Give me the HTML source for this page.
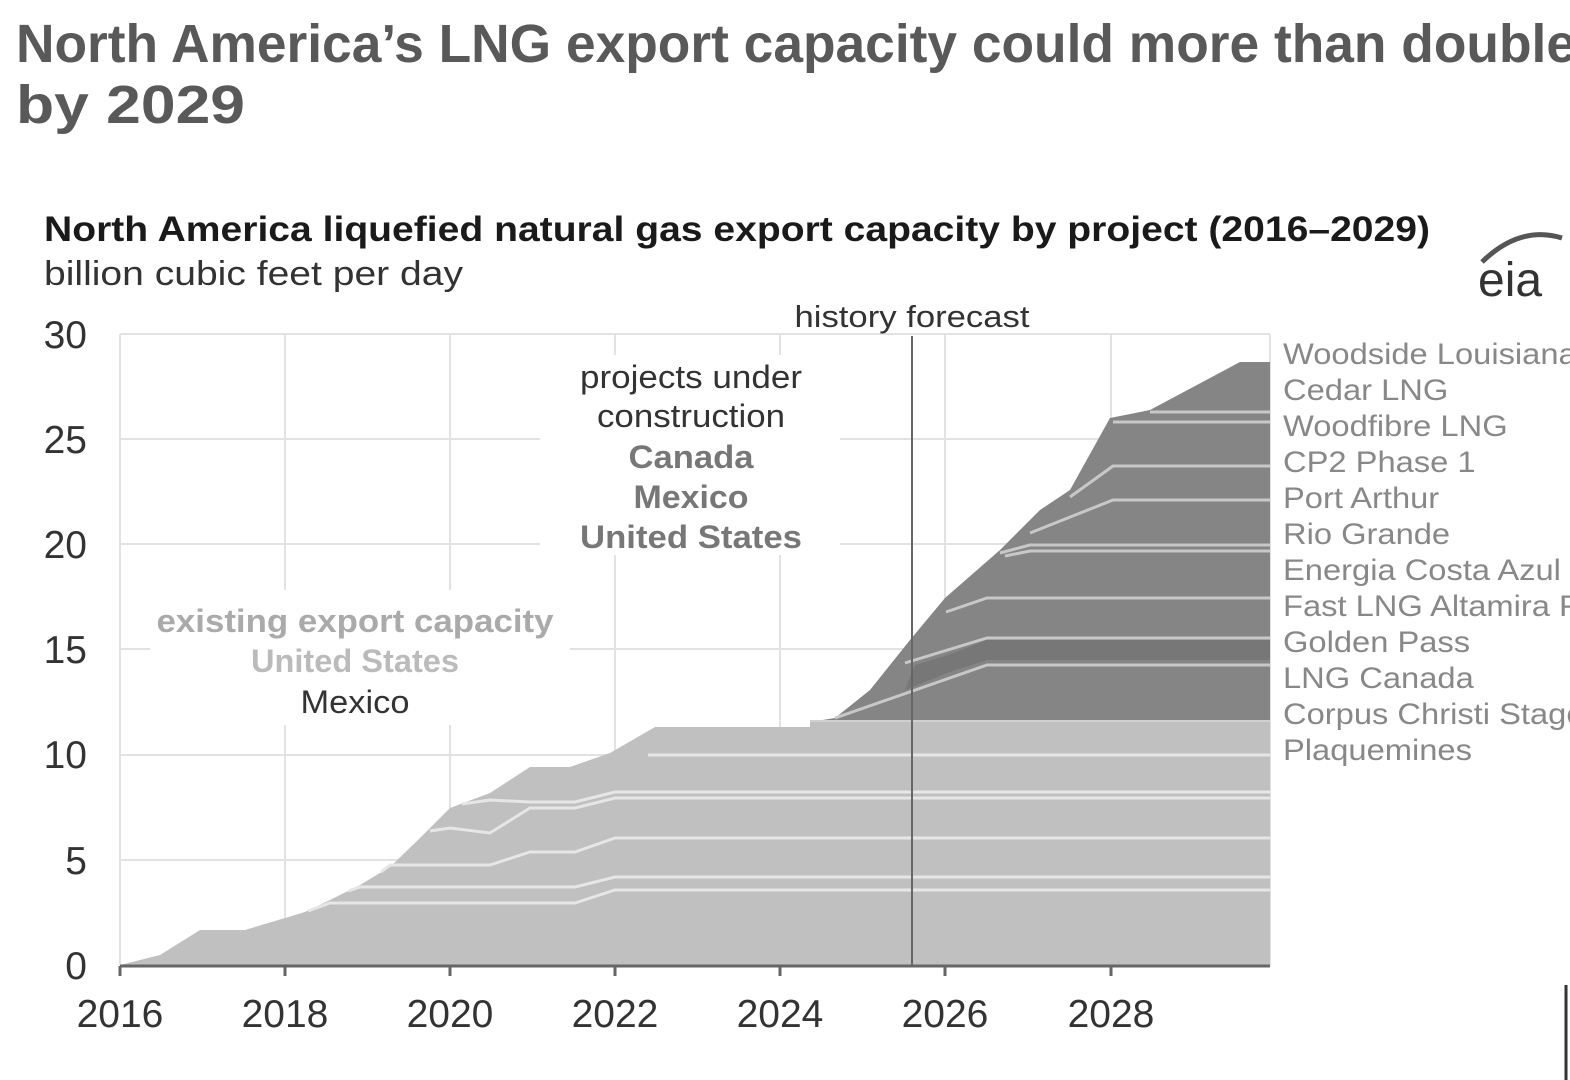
<!DOCTYPE html>
<html><head><meta charset="utf-8"><style>
html,body{margin:0;padding:0;background:#fff;width:1570px;height:1080px;overflow:hidden}
svg{display:block}
</style></head><body>
<svg width="1570" height="1080" viewBox="0 0 1570 1080" font-family="Liberation Sans, sans-serif">
<rect width="1570" height="1080" fill="#fff"/>
<text x="16" y="62" font-size="54" font-weight="bold" fill="#595959" textLength="1560" lengthAdjust="spacingAndGlyphs">North America’s LNG export capacity could more than double</text>
<text x="16" y="123" font-size="54" font-weight="bold" fill="#595959" textLength="229" lengthAdjust="spacingAndGlyphs">by 2029</text>
<text x="44" y="241" font-size="35" font-weight="bold" fill="#1a1a1a" textLength="1386" lengthAdjust="spacingAndGlyphs">North America liquefied natural gas export capacity by project (2016–2029)</text>
<text x="44" y="285" font-size="34" fill="#333" textLength="419" lengthAdjust="spacingAndGlyphs">billion cubic feet per day</text>
<path d="M1482 262 Q1520 225 1562 238" stroke="#555" stroke-width="5" fill="none"/>
<text x="1478" y="296" font-size="48" fill="#333">eia</text>
<g stroke="#e2e2e2" stroke-width="2">
<line x1="120" y1="334" x2="1270" y2="334"/><line x1="120" y1="439" x2="1270" y2="439"/>
<line x1="120" y1="544" x2="1270" y2="544"/><line x1="120" y1="649" x2="1270" y2="649"/>
<line x1="120" y1="755" x2="1270" y2="755"/><line x1="120" y1="860" x2="1270" y2="860"/>
<line x1="120" y1="334" x2="120" y2="965"/><line x1="285" y1="334" x2="285" y2="965"/>
<line x1="450" y1="334" x2="450" y2="965"/><line x1="615" y1="334" x2="615" y2="965"/>
<line x1="780" y1="334" x2="780" y2="965"/><line x1="945" y1="334" x2="945" y2="965"/>
<line x1="1111" y1="334" x2="1111" y2="965"/><line x1="1270" y1="334" x2="1270" y2="965"/>
</g>
<rect x="540" y="355" width="300" height="200" fill="#fff"/>
<rect x="150" y="590" width="420" height="135" fill="#fff"/>
<polygon fill="#c0c0c0" points="120,965 160,955 200,930 245,930 285,918 305,912 330,900 360,885 390,867 420,838 450,808 490,793 530,767 570,767 610,753 655,727 810,727 810,722 1270,722 1270,965"/>
<g stroke="#e6e6e6" stroke-width="3" fill="none">
<polyline points="308,911 330,903 575,903 615,890 1270,890"/>
<polyline points="348,891 360,887 575,887 615,877 1270,877"/>
<polyline points="381,872 390,865 490,865 530,852 575,852 615,838 1270,838"/>
<polyline points="430,831 450,828 490,833 530,808 575,808 615,798 1270,798"/>
<polyline points="462,804 490,800 530,802 575,802 615,792 1270,792"/>
<polyline points="648,755 1270,755"/>
</g>
<polygon fill="#858585" points="810,722 835,718 870,690 910,640 945,598 1000,550 1040,510 1070,490 1110,418 1150,410 1240,362 1270,362 1270,722"/>
<polygon fill="#777" points="905,690 950,672 987,660 1270,660 1270,640 987,640 948,655 915,665"/>
<g stroke="#c8c8c8" stroke-width="3" fill="none">
<polyline points="835,718 987,665 1270,665"/>
<polyline points="905,663 987,638 1270,638"/>
<polyline points="946,612 987,598 1270,598"/>
<polyline points="1000,553 1030,545 1270,545"/>
<polyline points="1005,556 1030,551 1270,551"/>
<polyline points="1030,533 1113,500 1270,500"/>
<polyline points="1070,497 1113,466 1270,466"/>
<polyline points="1113,422 1270,422"/>
<polyline points="1150,412 1270,412"/>
</g>
<line x1="810" y1="721" x2="1270" y2="721" stroke="#d0d0d0" stroke-width="2"/>
<line x1="912" y1="336" x2="912" y2="965" stroke="#666" stroke-width="2"/>
<line x1="120" y1="966" x2="1270" y2="966" stroke="#666" stroke-width="3"/>
<g stroke="#666" stroke-width="3">
<line x1="120" y1="966" x2="120" y2="976"/><line x1="285" y1="966" x2="285" y2="976"/>
<line x1="450" y1="966" x2="450" y2="976"/><line x1="615" y1="966" x2="615" y2="976"/>
<line x1="780" y1="966" x2="780" y2="976"/><line x1="945" y1="966" x2="945" y2="976"/>
<line x1="1111" y1="966" x2="1111" y2="976"/>
</g>
<g font-size="39" fill="#333" text-anchor="middle">
<text x="120" y="1027">2016</text><text x="285" y="1027">2018</text><text x="450" y="1027">2020</text>
<text x="615" y="1027">2022</text><text x="780" y="1027">2024</text><text x="945" y="1027">2026</text>
<text x="1111" y="1027">2028</text>
</g>
<g font-size="39" fill="#333" text-anchor="end">
<text x="87" y="348">30</text><text x="87" y="453">25</text><text x="87" y="558">20</text>
<text x="87" y="663">15</text><text x="87" y="768">10</text><text x="87" y="874">5</text><text x="87" y="979">0</text>
</g>
<text x="912" y="327" font-size="31" fill="#333" text-anchor="middle" textLength="235" lengthAdjust="spacingAndGlyphs">history forecast</text>
<g font-size="32" text-anchor="middle">
<text x="691" y="388" fill="#333" textLength="222" lengthAdjust="spacingAndGlyphs">projects under</text>
<text x="691" y="427" fill="#333" textLength="188" lengthAdjust="spacingAndGlyphs">construction</text>
<text x="691" y="468" fill="#777" font-weight="bold" textLength="125" lengthAdjust="spacingAndGlyphs">Canada</text>
<text x="691" y="508" fill="#777" font-weight="bold" textLength="115" lengthAdjust="spacingAndGlyphs">Mexico</text>
<text x="691" y="548" fill="#777" font-weight="bold" textLength="222" lengthAdjust="spacingAndGlyphs">United States</text>
<text x="355" y="632" fill="#aaa" font-weight="bold" textLength="397" lengthAdjust="spacingAndGlyphs">existing export capacity</text>
<text x="355" y="672" fill="#bbb" font-weight="bold" textLength="208" lengthAdjust="spacingAndGlyphs">United States</text>
<text x="355" y="713" fill="#333" textLength="109" lengthAdjust="spacingAndGlyphs">Mexico</text>
</g>
<g font-size="30" fill="#888" transform="translate(1283,0) scale(1.09,1) translate(-1283,0)">
<text x="1283" y="364">Woodside Louisiana</text>
<text x="1283" y="400">Cedar LNG</text>
<text x="1283" y="436">Woodfibre LNG</text>
<text x="1283" y="472">CP2 Phase 1</text>
<text x="1283" y="508">Port Arthur</text>
<text x="1283" y="544">Rio Grande</text>
<text x="1283" y="580">Energia Costa Azul</text>
<text x="1283" y="616">Fast LNG Altamira FLNG</text>
<text x="1283" y="652">Golden Pass</text>
<text x="1283" y="688">LNG Canada</text>
<text x="1283" y="724">Corpus Christi Stage 3</text>
<text x="1283" y="760">Plaquemines</text>
</g>
<line x1="1566" y1="985" x2="1566" y2="1080" stroke="#333" stroke-width="3"/>
</svg>
</body></html>
